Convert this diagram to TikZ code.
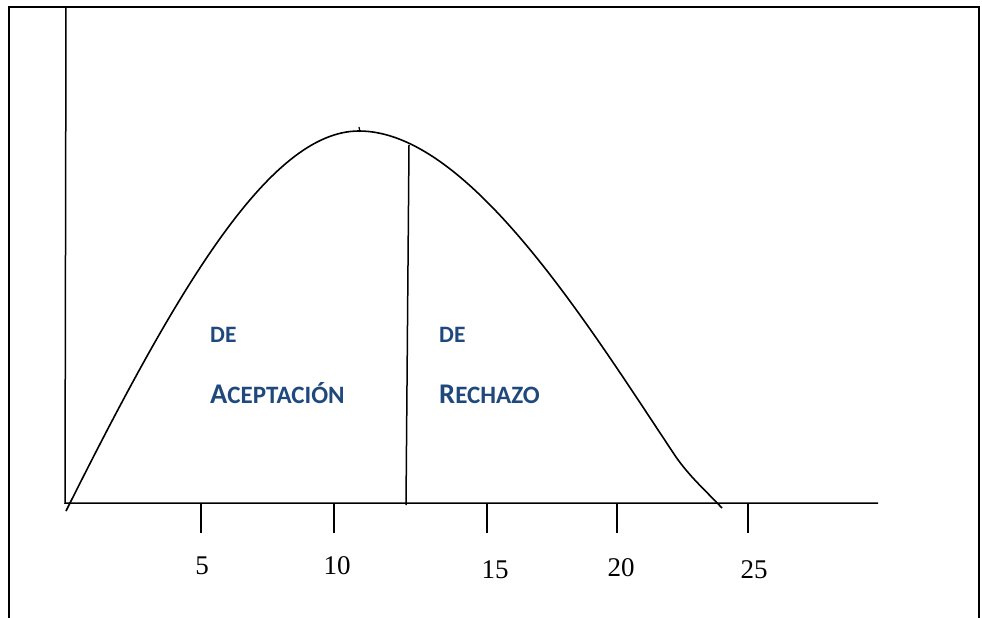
\documentclass[tikz,border=0pt]{standalone}
\usepackage{fontspec}
\setmainfont{Liberation Serif}
\newfontfamily\lblfont{Carlito}
\definecolor{lblblue}{RGB}{31,73,125}
\tikzset{
  frameline/.style={line width=1.6pt},
  axisline/.style={line width=1.5pt},
  curveline/.style={line width=1.6pt},
  ticklabel/.style={font=\fontsize{27}{27}\selectfont, inner sep=0pt},
  zonelabel/.style={font=\lblfont\bfseries, text=lblblue, inner sep=0pt, anchor=base west}
}
\newcommand{\bigsc}[2]{{\fontsize{28.5}{28}\selectfont #1}{\fontsize{25}{25}\selectfont #2}}
\begin{document}
\begin{tikzpicture}[x=1pt,y=-1pt]
\useasboundingbox (0,0) rectangle (982,618);
% frame
\draw[frameline] (9,618) -- (9,7) -- (979,7) -- (979,618);
% axes
\coordinate (O) at (65,503);
\coordinate (ytop) at (66,7);
\coordinate (xend) at (878,503);
\draw[axisline] (ytop) -- (O) -- (xend);
% ticks
\foreach \x/\n in {201/a,334/b,487/c,617/d,748/e}{
  \coordinate (t\n) at (\x,503);
  \coordinate (b\n) at (\x,533);
  \draw[axisline] (t\n) -- (b\n);
}
% tick labels
\node[ticklabel] (l5) at (202,566) {5};
\node[ticklabel] (l10) at (337,566) {10};
\node[ticklabel] (l15) at (495,570) {15};
\node[ticklabel] (l20) at (621,568) {20};
\node[ticklabel] (l25) at (754,570) {25};
% curve
\coordinate (cstart) at (66,511);
\coordinate (cpeak) at (359,131);
\coordinate (cknee) at (676,457);
\coordinate (cend) at (722,508);
\draw[curveline] (cstart) .. controls (176,291) and (269,131) .. (cpeak)
  .. controls (469,131) and (588,325) .. (cknee)
  .. controls (690,477) and (706,491) .. (cend);
% small mark at peak
\draw[line width=1.2pt] (359,127) -- (360,132);
% dividing line
\coordinate (vtop) at (409,145);
\coordinate (vbot) at (406,505);
\draw[axisline] (vtop) -- (vbot);
% zone labels
\node[zonelabel] (de1) at (210,342) {\fontsize{23.5}{24}\selectfont DE};
\node[zonelabel] (acep) at (210,403) {\bigsc{A}{CEPTACIÓN}};
\node[zonelabel] (de2) at (439,342) {\fontsize{23.5}{24}\selectfont DE};
\node[zonelabel] (rech) at (439,403) {\bigsc{R}{ECHAZO}};
\end{tikzpicture}
\end{document}
